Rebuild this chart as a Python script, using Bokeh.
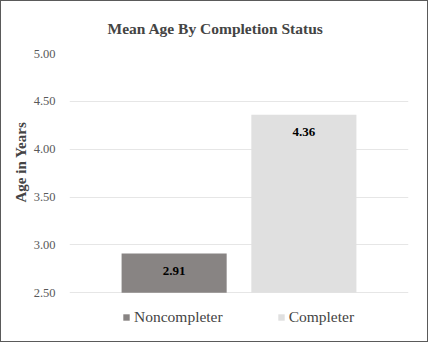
from bokeh.plotting import figure
from bokeh.models import ColumnDataSource, FactorRange, Range1d, Legend, LegendItem, LabelSet, FixedTicker, NumeralTickFormatter, Title
from bokeh.layouts import column
from bokeh.embed import file_html
from bokeh.resources import INLINE

categories = ["Noncompleter", "Completer"]
mean_age = [2.91, 4.36]
labels = ["2.91", "4.36"]
colors = ["#888483", "#e0e0e0"]
y_ticks = [2.5, 3.0, 3.5, 4.0, 4.5, 5.0]
baseline = 2.5

src = ColumnDataSource(dict(cat=categories, val=mean_age, lab=labels, color=colors))

p = figure(width=428, height=342, output_backend="svg", toolbar_location=None,
           x_range=FactorRange(factors=categories, range_padding=0.3065),
           y_range=Range1d(2.044, 5.0),
           min_border_left=68, min_border_right=19, min_border_top=52, min_border_bottom=5)

p.outline_line_color = None
p.border_fill_color = "white"
p.background_fill_color = "white"

r = p.vbar(x="cat", top="val", bottom=baseline, width=0.81, fill_color="color", line_color=None, source=src)

p.add_layout(LabelSet(x="cat", y="val", text="lab", source=src, y_offset=-17,
                      text_align="center", text_baseline="middle",
                      text_font="Liberation Serif", text_font_style="bold",
                      text_font_size="13px", text_color="black"))

p.title.text = "Mean Age By Completion Status"
p.title.align = "left"
p.title.offset = 38
p.title.vertical_align = "top"
p.title.text_font = "Liberation Serif"
p.title.text_font_size = "15.5px"
p.title.text_font_style = "bold"
p.title.standoff = 30

p.xaxis.visible = False
p.xgrid.grid_line_color = None
p.ygrid.grid_line_color = "#e6e6e6"
p.ygrid.grid_line_width = 1

yax = p.yaxis[0]
yax.ticker = FixedTicker(ticks=y_ticks)
yax.formatter = NumeralTickFormatter(format="0.00")
yax.axis_line_color = None
yax.major_tick_line_color = None
yax.minor_tick_line_color = None
yax.major_label_standoff = 8
yax.major_label_text_font = "Liberation Serif"
yax.major_label_text_font_size = "12.5px"
yax.major_label_text_color = "#595959"

ylabel = Title(text="Age in Years", align="left", offset=134, standoff=4,
               text_font="Liberation Serif", text_font_size="15px", text_font_style="bold")
p.add_layout(ylabel, "left")

legend = Legend(items=[LegendItem(label=categories[i], renderers=[r], index=i) for i in range(2)],
                orientation="horizontal", location=(53, 10),
                label_text_font="Liberation Serif", label_text_font_size="15.5px",
                glyph_width=8, glyph_height=8, label_standoff=4, spacing=54,
                border_line_color=None, background_fill_alpha=0, margin=0, padding=4)
p.add_layout(legend, "center")

layout = column(p, width=428, height=342, styles={"border": "1px solid #5a5a5a"})

open("out.html", "w").write(file_html(layout, INLINE))
